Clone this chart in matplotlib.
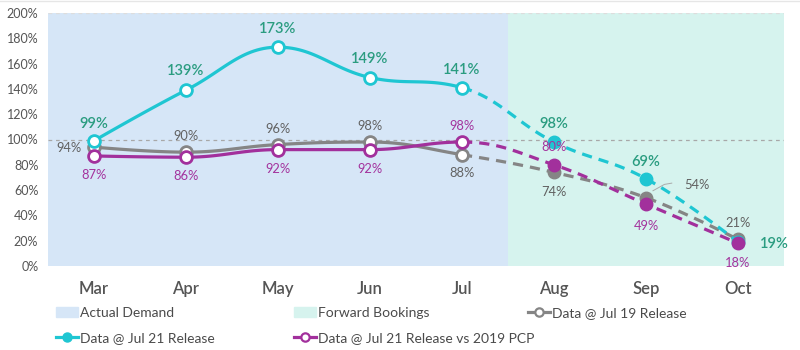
import numpy as np
import matplotlib
matplotlib.use("Agg")
import matplotlib.pyplot as plt
from matplotlib.patches import Patch
from matplotlib.lines import Line2D

plt.rcParams['font.family'] = ['Lato', 'DejaVu Sans']

months = ["Mar", "Apr", "May", "Jun", "Jul", "Aug", "Sep", "Oct"]
jul21 = [99, 139, 173, 149, 141, 98, 69, 19]
jul19 = [94, 90, 96, 98, 88, 74, 54, 21]
vs2019 = [87, 86, 92, 92, 98, 80, 49, 18]
n_actual = 5  # Mar..Jul are actual demand, the rest forward bookings

CYAN = '#1fc6d2'
CYAN_TXT = '#2a9c80'
GRAY = '#858585'
GRAY_TXT = '#616161'
PURPLE = '#a2309c'
PURPLE_TXT = '#a3329d'


def spline(ys, steps=30):
    # highcharts style spline: bezier with clamped control points
    xs = np.arange(len(ys), dtype=float)
    ys = np.asarray(ys, dtype=float)
    s, d = 1.5, 2.5
    lc, rc = [], []
    for i in range(len(ys)):
        x, y = xs[i], ys[i]
        if i == 0 or i == len(ys) - 1:
            lc.append((x, y)); rc.append((x, y)); continue
        lx, ly = xs[i - 1], ys[i - 1]
        nx_, ny = xs[i + 1], ys[i + 1]
        lcx, lcy = (s * x + lx) / d, (s * y + ly) / d
        rcx, rcy = (s * x + nx_) / d, (s * y + ny) / d
        corr = (rcy - lcy) * (rcx - x) / (rcx - lcx) + y - rcy
        lcy += corr; rcy += corr
        if lcy > max(ly, y):
            lcy = max(ly, y); rcy = 2 * y - lcy
        elif lcy < min(ly, y):
            lcy = min(ly, y); rcy = 2 * y - lcy
        if rcy > max(ny, y):
            rcy = max(ny, y); lcy = 2 * y - rcy
        elif rcy < min(ny, y):
            rcy = min(ny, y); lcy = 2 * y - rcy
        lc.append((lcx, lcy)); rc.append((rcx, rcy))
    segs = []
    t = np.linspace(0, 1, steps)[:, None]
    for i in range(len(ys) - 1):
        p0 = np.array([xs[i], ys[i]]); p1 = np.array(rc[i])
        p2 = np.array(lc[i + 1]); p3 = np.array([xs[i + 1], ys[i + 1]])
        b = ((1 - t) ** 3) * p0 + 3 * ((1 - t) ** 2) * t * p1 + 3 * (1 - t) * t ** 2 * p2 + t ** 3 * p3
        segs.append(b)
    return segs


fig = plt.figure(figsize=(8, 3.5), dpi=100)
ax = fig.add_axes([48 / 800, 1 - 266 / 350, 736 / 800, 253 / 350])
ax.set_xlim(-0.5, 7.5)
ax.set_ylim(0, 200)

ax.axvspan(-0.5, n_actual - 0.5, color='#d6e6f7', lw=0, zorder=0)
ax.axvspan(n_actual - 0.5, 7.5, color='#d6f3ee', lw=0, zorder=0)
ax.axhline(100, color='#a8a8a8', lw=0.9, ls=(0, (3, 3)), zorder=1)
ax.axhline(200, color='#dddddd', lw=0.9, ls=(0, (3, 3)), zorder=1)


def draw_series(vals, color, z):
    segs = spline(vals)
    solid = np.vstack(segs[:n_actual - 1])
    dashed = np.vstack(segs[n_actual - 1:])
    ax.plot(solid[:, 0], solid[:, 1], color=color, lw=2.3, zorder=z, solid_capstyle='round')
    ax.plot(dashed[:, 0], dashed[:, 1], color=color, lw=2.3, zorder=z, ls=(0, (3.2, 2.2)))
    x = np.arange(len(vals))
    ax.plot(x[:n_actual], vals[:n_actual], 'o', ms=8.5, mfc='white', mec=color, mew=2, zorder=z + 0.5)
    ax.plot(x[n_actual:], vals[n_actual:], 'o', ms=9, mfc=color, mec=color, mew=1, zorder=z + 0.5)


draw_series(jul19, GRAY, 3)
draw_series(jul21, CYAN, 4)
draw_series(vs2019, PURPLE, 5)

# label offsets in pixels (dx, dy)
off_cyan = [(0, 17), (0, 19), (0, 18), (0, 19), (0, 18), (0, 18), (0, 17), (36, -2)]
off_gray = [(-25, -1), (0, 16), (0, 16), (0, 16), (0, -18), (0, -20), (51, 13), (0, 16)]
off_purple = [(0, -19), (0, -19), (0, -19), (0, -19), (0, 16), (0, 18), (0, -22), (0, -20)]


def labels(vals, offs, color, size, weight):
    for i, (v, (dx, dy)) in enumerate(zip(vals, offs)):
        ax.annotate(f"{v}%", (i, v), xytext=(dx * 0.72, dy * 0.72), textcoords='offset points',
                    ha='center', va='center', color=color, fontsize=size, fontweight=weight, zorder=10)


labels(jul21, off_cyan, CYAN_TXT, 10.5, 'semibold')
labels(jul19, off_gray, GRAY_TXT, 9.3, 'normal')
labels(vs2019, off_purple, PURPLE_TXT, 9.3, 'normal')

# connector for the Sep grey label
ax.plot([6.076, 6.2, 6.28], [59.5, 64.5, 65.5], color='#aaaaaa', lw=0.7, zorder=9)

ax.set_xticks(range(len(months)))
ax.set_xticklabels(months, fontsize=12, fontweight='semibold', color='#555555')
ax.set_yticks(range(0, 201, 20))
ax.set_yticklabels([f"{v}%" for v in range(0, 201, 20)], fontsize=9, color='#555555')
ax.tick_params(length=0)
ax.tick_params(axis='x', pad=11)
ax.tick_params(axis='y', pad=7)
for sp in ax.spines.values():
    sp.set_visible(False)

fig.add_artist(Line2D([0, 1], [1 - 1 / 350] * 2, color='#e6e6e6', lw=1))

leg_kw = dict(frameon=False, fontsize=10, handlelength=1.6, handletextpad=0.15,
              labelspacing=0.95, borderaxespad=0, borderpad=0, labelcolor='#4a4a4a')
h_actual = Patch(color='#d6e6f7', label='Actual Demand')
h_fwd = Patch(color='#d6f3ee', label='Forward Bookings')
h19 = Line2D([], [], color=GRAY, lw=2.3, marker='o', ms=6, mfc='white', mec=GRAY, mew=1.6,
             label='Data @ Jul 19 Release')
h21 = Line2D([], [], color=CYAN, lw=2.3, marker='o', ms=6.5, mfc=CYAN, mec=CYAN,
             label='Data @ Jul 21 Release')
hvs = Line2D([], [], color=PURPLE, lw=2.3, marker='o', ms=6, mfc='white', mec=PURPLE, mew=1.6,
             label='Data @ Jul 21 Release vs 2019 PCP')

for x0, hs in [(56, [h_actual, h21]), (294, [h_fwd, hvs]), (528, [h19])]:
    fig.legend(handles=hs, loc='upper left', bbox_to_anchor=(x0 / 800, 1 - 307 / 350), **leg_kw)

fig.savefig("out.png", dpi=100)
